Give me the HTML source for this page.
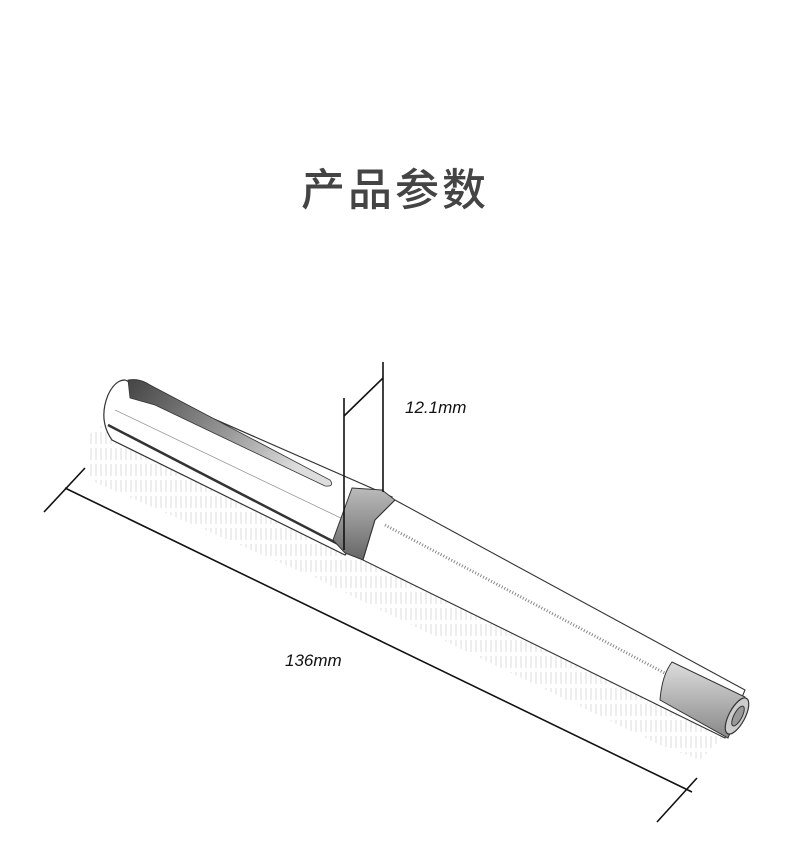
<!DOCTYPE html>
<html><head><meta charset="utf-8"><style>
html,body{margin:0;padding:0;background:#fff;width:790px;height:854px;overflow:hidden}
.t{position:absolute;top:154px;left:0;width:790px;text-align:center;font-family:"Liberation Sans","Noto Sans CJK SC",sans-serif;font-size:44px;font-weight:500;color:#444;letter-spacing:3px}
svg{position:absolute;left:0;top:0}
</style></head><body>
<div class="t">产品参数</div>
<svg width="790" height="854" viewBox="0 0 790 854">
<defs>
<pattern id="h" width="5" height="16" patternUnits="userSpaceOnUse"><line x1="1" y1="0" x2="1" y2="12" stroke="#bbb" stroke-width="0.5"/></pattern>
<linearGradient id="clip" x1="0" y1="0" x2="1" y2="0.4"><stop offset="0" stop-color="#444"/><stop offset="0.6" stop-color="#999"/><stop offset="1" stop-color="#ddd"/></linearGradient>
<linearGradient id="ring" x1="0" y1="0" x2="0" y2="1"><stop offset="0" stop-color="#bbb"/><stop offset="1" stop-color="#666"/></linearGradient>
<linearGradient id="tip" x1="0" y1="0" x2="0" y2="1"><stop offset="0" stop-color="#ddd"/><stop offset="1" stop-color="#888"/></linearGradient>
</defs>
<polygon points="88,435 110,420 340,540 370,555 725,735 700,760 660,745 360,600 320,580 90,480" fill="url(#h)"/>
<path d="M125,380 L392,497 L345,555 L112,440 Q98,420 108,395 Q115,380 125,380 Z" fill="#fff" stroke="#333" stroke-width="1.2"/>
<path d="M108,425 L340,545" stroke="#333" stroke-width="2.5" fill="none"/>
<path d="M115,410 L345,520" stroke="#999" stroke-width="0.8" fill="none"/>
<path d="M128,380 Q140,378 150,385 L330,480 Q335,487 325,486 L155,405 L130,398 Z" fill="url(#clip)" stroke="#333" stroke-width="0.8"/>
<path d="M352,488 L382,490 L395,500 L375,520 L363,560 L345,553 L333,540 Z" fill="url(#ring)" stroke="#333" stroke-width="1"/>
<path d="M395,500 L745,690 L725,738 L363,560 L375,520 Z" fill="#fff" stroke="#333" stroke-width="1.1"/>
<path d="M385,525 L725,705" stroke="#888" stroke-width="3" stroke-dasharray="1 2" fill="none"/>
<path d="M672,662 L745,697 L728,738 L660,700 Q662,675 672,662 Z" fill="url(#tip)" stroke="#333" stroke-width="1"/>
<ellipse cx="737" cy="716" rx="8" ry="20" transform="rotate(28 737 716)" fill="#ccc" stroke="#333" stroke-width="1.2"/>
<ellipse cx="738" cy="716" rx="4" ry="11" transform="rotate(28 738 716)" fill="#999" stroke="#333" stroke-width="1"/>
<g stroke="#111" stroke-width="1.6" fill="none">
<line x1="65" y1="488" x2="692" y2="792"/>
<line x1="44" y1="512" x2="85" y2="468"/>
<line x1="657" y1="822" x2="697" y2="778"/>
<line x1="383" y1="362" x2="383" y2="492"/>
<line x1="344" y1="398" x2="344" y2="550"/>
<line x1="344" y1="416" x2="383" y2="378"/>
</g>
<g font-family="Liberation Sans,sans-serif" font-style="italic" font-size="17" fill="#111">
<text x="405" y="413">12.1mm</text>
<text x="285" y="666">136mm</text>
</g>
</svg>
</body></html>
